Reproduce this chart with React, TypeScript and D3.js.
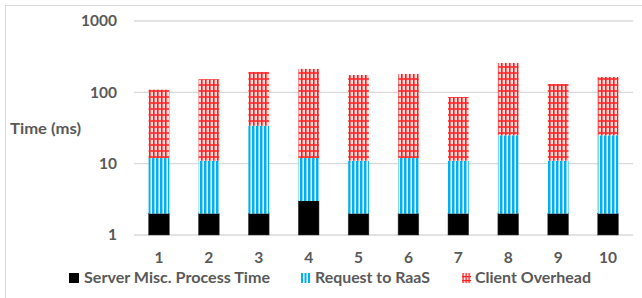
import React from "react";
import * as d3 from "d3";

const categories = ["1", "2", "3", "4", "5", "6", "7", "8", "9", "10"];
const serverMisc = [2, 2, 2, 3, 2, 2, 2, 2, 2, 2];
const requestRaaS = [10, 9, 32, 9, 9, 10, 9, 23, 9, 23];
const clientOverhead = [97, 142, 159, 201, 164, 169, 75, 233, 120, 139];
const seriesNames = ["Server Misc. Process Time", "Request to RaaS", "Client Overhead"];
const yTicks = [1, 10, 100, 1000];

const W = 642;
const H = 298;
const TEXT = "#595959";
const FONT = "Lato, 'Open Sans', sans-serif";
const FS = 15.5;

export default function App() {
  const x = d3.scaleBand<string>().domain(categories).range([134, 633]).paddingInner(0.585).paddingOuter(0.2925);
  const y = d3.scaleLog().domain([1, 1000]).range([235, 21]);
  const rows = categories.map((c, i) => ({ cat: c, s: serverMisc[i], r: requestRaaS[i], c2: clientOverhead[i] }));
  const stack = d3.stack<any>().keys(["s", "r", "c2"]);
  const layers = stack(rows);
  const fills = ["#000000", "url(#bluePat)", "url(#redPat)"];

  return (
    <svg width={W} height={H} style={{ position: "absolute", left: 0, top: 0, background: "#fff" }} fontFamily={FONT}>
      <defs>
        <pattern id="bluePat" patternUnits="userSpaceOnUse" width={4} height={4}>
          <rect width={4} height={4} fill="#ffffff" />
          <rect x={0} width={2} height={4} fill="#00B0F0" />
          <rect x={2} width={1} height={4} fill="#7fd3f5" />
        </pattern>
        <pattern id="redPat" patternUnits="userSpaceOnUse" width={4} height={6}>
          <rect width={4} height={6} fill="#ffdede" />
          <rect x={0} y={0} width={4} height={2} fill="#ff7070" />
          <rect x={1} y={0} width={1.6} height={6} fill="#ff1a1a" />
          <rect x={0} y={0.5} width={4} height={1} fill="#ff2a2a" />
        </pattern>
      </defs>
      <rect x={5.5} y={5.5} width={W} height={H} fill="none" stroke="#d9d9d9" />
      {yTicks.map((t) => (
        <g key={t}>
          <line x1={134} x2={633} y1={y(t)} y2={y(t)} stroke="#d9d9d9" strokeWidth={1.3} />
          <text x={117} y={y(t)} dy="0.35em" textAnchor="end" fontSize={FS} fontWeight="bold" fill={TEXT}>
            {t}
          </text>
        </g>
      ))}
      <text x={10} y={129} dy="0.35em" fontSize={FS} fontWeight="bold" fill={TEXT} textLength={71} lengthAdjust="spacingAndGlyphs">
        Time (ms)
      </text>
      {layers.map((layer, li) =>
        layer.map((d, i) => (
          <rect
            key={li + "-" + i}
            x={x(categories[i])!}
            width={x.bandwidth()}
            y={y(d[1])}
            height={y(d[0] === 0 ? 1 : d[0]) - y(d[1])}
            fill={fills[li]}
            stroke={li === 0 ? "#404040" : "none"}
            strokeWidth={0.5}
          />
        ))
      )}
      {categories.map((c) => (
        <text key={c} x={x(c)! + x.bandwidth() / 2} y={258} dy="0.35em" textAnchor="middle" fontSize={FS} fontWeight="bold" fill={TEXT}>
          {c}
        </text>
      ))}
      <g>
        <rect x={69} y={273} width={10} height={10} fill="#000" />
        <text x={84} y={278} dy="0.35em" fontSize={FS} fontWeight="bold" fill={TEXT} textLength={186} lengthAdjust="spacingAndGlyphs">
          {seriesNames[0]}
        </text>
        {[0, 1, 2].map((k) => (
          <rect key={k} x={301 + k * 3.5} y={273} width={2} height={10} fill="#00B0F0" />
        ))}
        <text x={315} y={278} dy="0.35em" fontSize={FS} fontWeight="bold" fill={TEXT} textLength={115} lengthAdjust="spacingAndGlyphs">
          {seriesNames[1]}
        </text>
        <rect x={462} y={273} width={9} height={10} fill="#ffe3e3" />
        {[0, 1, 2].map((k) => (
          <rect key={"v" + k} x={462.5 + k * 3} y={273} width={1.2} height={10} fill="#ff2020" />
        ))}
        {[0, 1].map((k) => (
          <rect key={"h" + k} x={462} y={276 + k * 4} width={9} height={1.2} fill="#ff2020" />
        ))}
        <text x={475} y={278} dy="0.35em" fontSize={FS} fontWeight="bold" fill={TEXT} textLength={116} lengthAdjust="spacingAndGlyphs">
          {seriesNames[2]}
        </text>
      </g>
    </svg>
  );
}
